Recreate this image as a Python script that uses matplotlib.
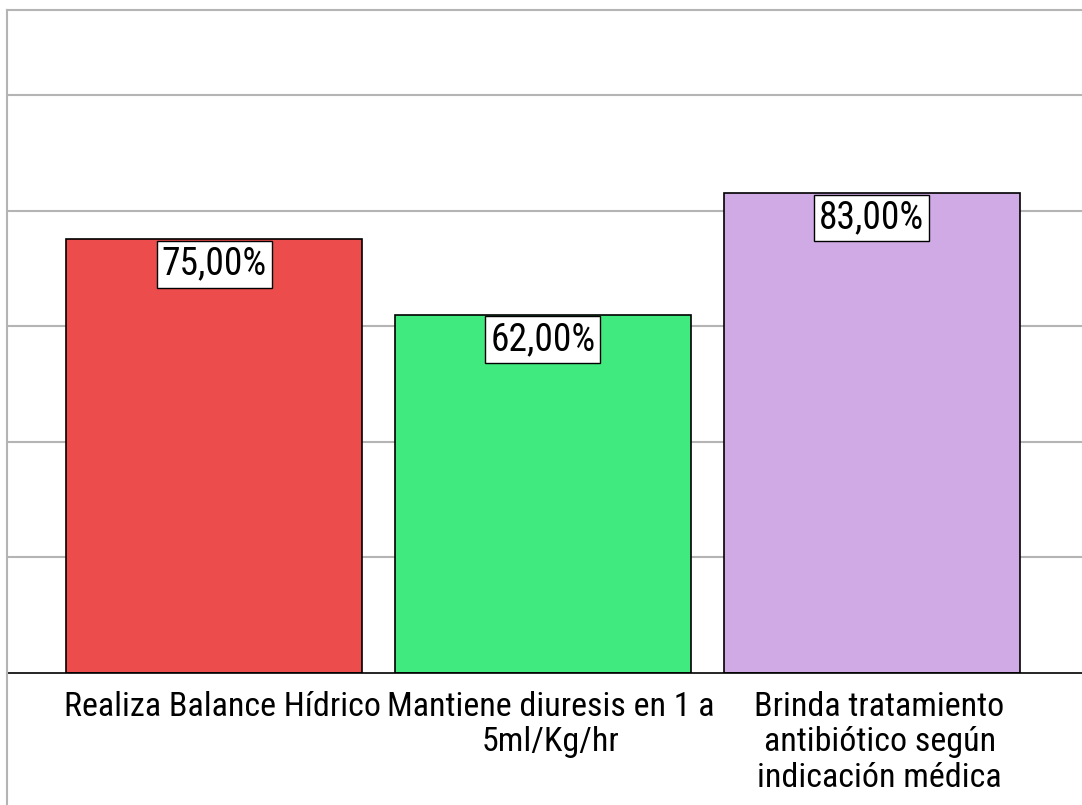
import matplotlib
matplotlib.use("Agg")
import matplotlib.pyplot as plt
from matplotlib.transforms import ScaledTranslation

categories = ["Realiza Balance Hídrico",
              "Mantiene diuresis en 1 a\n5ml/Kg/hr",
              "Brinda tratamiento\nantibiótico según\nindicación médica"]
values = [75.0, 62.0, 83.0]
labels = ["75,00%", "62,00%", "83,00%"]
colors = ["#ED4C4D", "#41EA7E", "#D0AAE5"]

plt.rcParams['font.family'] = ['Roboto Condensed', 'DejaVu Sans']

fig = plt.figure(figsize=(10.82, 8.05), dpi=100)
W, H = 1082, 805
ax = fig.add_axes([7 / W, (H - 673) / H, 1 - 7 / W, (673 - 10.5) / H])

x = list(range(len(categories)))
ax.bar(x, values, width=0.9, color=colors, edgecolor="black", linewidth=1.2, zorder=3)
ax.set_xlim(-0.63, 2.64)
ax.set_ylim(0, 114.6)
ax.set_yticks([20, 40, 60, 80, 100])
ax.yaxis.grid(True, color="#B4B4B4", linewidth=1.5, zorder=0)
ax.tick_params(axis="y", length=0, labelleft=False)
ax.tick_params(axis="x", length=0, pad=13)
ax.set_xticks(x)
ax.set_xticklabels(categories, fontsize=24.5, linespacing=1.13, va="top")
shift = ScaledTranslation(8 / 100, 0, fig.dpi_scale_trans)
for t in ax.get_xticklabels():
    t.set_transform(t.get_transform() + shift)

ax.spines["right"].set_visible(False)
ax.spines["top"].set_color("#B4B4B4")
ax.spines["top"].set_linewidth(1.5)
ax.spines["left"].set_color("#B4B4B4")
ax.spines["left"].set_linewidth(1.5)
ax.spines["bottom"].set_color("black")
ax.spines["bottom"].set_linewidth(1.2)
ax.spines["bottom"].set_zorder(4)

for xi, v, lab in zip(x, values, labels):
    ax.annotate(lab, (xi, v), xytext=(0, -4.5), textcoords="offset points",
                ha="center", va="top", fontsize=27, zorder=5,
                bbox=dict(boxstyle="square,pad=0.13", facecolor="white",
                          edgecolor="black", linewidth=1.0))

fig.add_artist(plt.Line2D([7 / W, 7 / W], [0, (H - 673) / H], color="#B4B4B4", linewidth=1.5,
                          transform=fig.transFigure))

fig.savefig("out.png", dpi=100, facecolor="white")
